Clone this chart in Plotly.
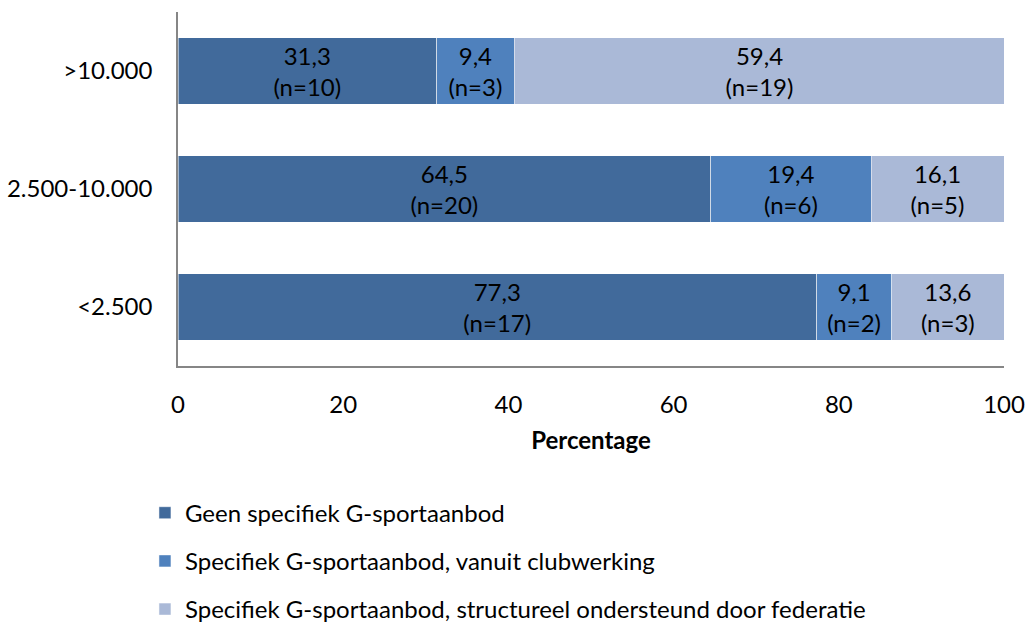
import plotly.graph_objects as go

categories = ["<2.500", "2.500-10.000", ">10.000"]
geen = [77.3, 64.5, 31.3]
club = [9.1, 19.4, 9.4]
federatie = [13.6, 16.1, 59.4]
n_geen = [17, 20, 10]
n_club = [2, 6, 3]
n_federatie = [3, 5, 19]

series_names = [
    "Geen specifiek G-sportaanbod",
    "Specifiek G-sportaanbod, vanuit clubwerking",
    "Specifiek G-sportaanbod, structureel ondersteund door federatie",
]
colors = ["#416A9B", "#4F81BD", "#AAB9D7"]

FONT = "Lato, Calibri, Carlito, sans-serif"


def labels(vals, ns):
    return [f"{v:.1f}".replace(".", ",") + f"<br>(n={n})" for v, n in zip(vals, ns)]


fig = go.Figure()
for i, (name, vals, ns, col) in enumerate(zip(
        series_names, [geen, club, federatie], [n_geen, n_club, n_federatie], colors)):
    fig.add_trace(go.Bar(
        y=categories, x=vals, name=name, orientation="h",
        marker=dict(color=col, line=dict(width=0.5, color="white")),
        text=labels(vals, ns), textposition="inside",
        insidetextanchor="middle", textangle=0,
        textfont=dict(color="black", size=24, family=FONT),
        legendgroup=str(i),
    ))

fig.update_layout(
    width=1026, height=623,
    barmode="stack", bargap=0.435,
    paper_bgcolor="white", plot_bgcolor="white",
    font=dict(family=FONT, size=24, color="black"),
    margin=dict(l=178, r=22, t=12, b=257, autoexpand=False),
    showlegend=True,
    legend=dict(
        x=-0.04, y=-0.352, xanchor="left", yanchor="top",
        traceorder="grouped", tracegroupgap=14,
        itemwidth=30, font=dict(size=24, family=FONT),
        bgcolor="rgba(0,0,0,0)",
    ),
    xaxis=dict(
        range=[0, 100], dtick=20, showgrid=False, zeroline=False,
        showline=True, linecolor="#868686", linewidth=1.5,
        ticks="", ticklabelstandoff=16, automargin=False,
        title=dict(text="<b>Percentage</b>", standoff=16, font=dict(size=24)),
    ),
    yaxis=dict(
        range=[-0.5, 2.5], showgrid=False, zeroline=False,
        showline=True, linecolor="#868686", linewidth=1.5,
        ticks="", ticklabelstandoff=19, automargin=False,
    ),
)

# drop the default 8px body margin so the figure sits at the window origin
fig.write_html(
    "out.html",
    config={"displayModeBar": False},
    post_script="document.body.style.margin='0';",
)
